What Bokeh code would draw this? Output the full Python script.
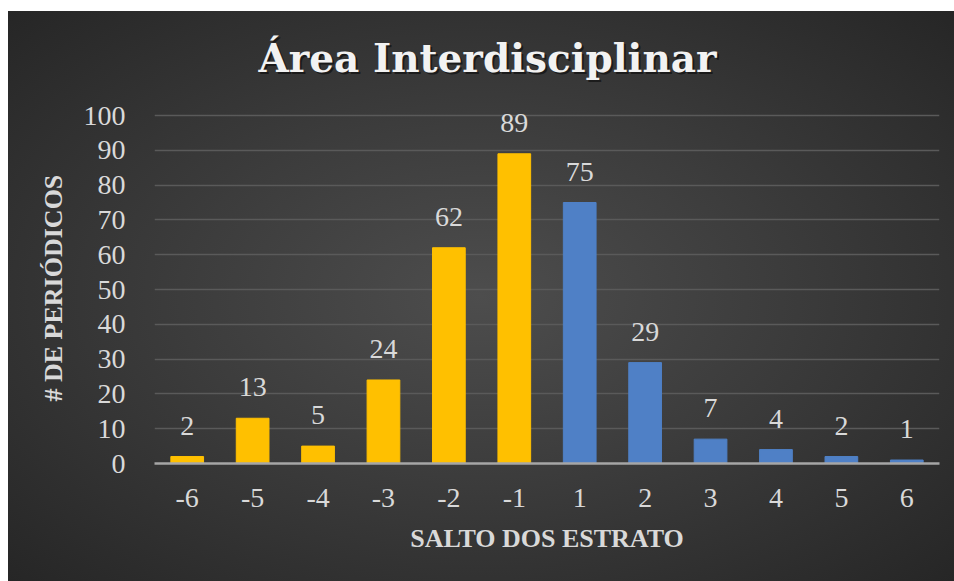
from bokeh.plotting import figure
from bokeh.models import ColumnDataSource, Range1d, FactorRange, LabelSet, Label, FixedTicker, Title
from bokeh.embed import file_html
from bokeh.resources import INLINE

# ---- data ----
categories = ["-6", "-5", "-4", "-3", "-2", "-1", "1", "2", "3", "4", "5", "6"]
values = [2, 13, 5, 24, 62, 89, 75, 29, 7, 4, 2, 1]
y_ticks = [0, 10, 20, 30, 40, 50, 60, 70, 80, 90, 100]
title_text = "Área Interdisciplinar"
x_label = "SALTO DOS ESTRATO"
y_label = "# DE PERIÓDICOS"

YELLOW = "#FFC000"
BLUE = "#4f80c6"
colors = [YELLOW if c.startswith("-") else BLUE for c in categories]

src = ColumnDataSource(dict(x=categories, top=values, color=colors,
                            lbl=[str(v) for v in values]))

W, H = 946, 570
FONT = "Liberation Serif"
# the frame is extended upward (to 125) so the title can live inside it
p = figure(width=W, height=H, x_range=FactorRange(*categories), y_range=Range1d(0, 125),
           output_backend="svg", toolbar_location=None,
           min_border_left=146, min_border_right=15, min_border_top=17, min_border_bottom=118)
p.styles = {"background": "radial-gradient(ellipse at 50% 50%, #4d4d4d 0%, #3c3c3c 45%, #262626 100%)",
            "margin-left": "8px", "margin-top": "11px"}
p.border_fill_alpha = 0
p.background_fill_alpha = 0
p.outline_line_color = None

p.vbar(x="x", top="top", width=0.5, color="color", source=src)

labels = LabelSet(x="x", y="top", text="lbl", source=src, text_align="center",
                  text_baseline="alphabetic", y_offset=22, text_color="#d9d9d9",
                  text_font=FONT, text_font_size="28px")
p.add_layout(labels)

# title with a soft shadow
for dx, dy, col, alpha in [(2, -2, "#000000", 0.5), (0, 0, "#f2f2f2", 1.0)]:
    p.add_layout(Label(x=333, x_units="screen", y=116.6, y_units="data",
                       x_offset=dx, y_offset=dy, text=title_text,
                       text_align="center", text_baseline="alphabetic",
                       text_font="DejaVu Serif", text_font_style="bold", text_font_size="39px",
                       text_color=col, text_alpha=alpha))

# y axis title placed alongside the 0-100 part of the axis
p.add_layout(Title(text=y_label, align="left", offset=62, standoff=26,
                   text_font=FONT, text_font_size="26px", text_font_style="bold",
                   text_color="#d9d9d9"), "left")

# axes
p.yaxis.ticker = FixedTicker(ticks=y_ticks)
p.yaxis.axis_line_color = None
p.yaxis.major_tick_line_color = None
p.yaxis.minor_tick_line_color = None
p.yaxis.major_label_text_font = FONT
p.yaxis.major_label_text_font_size = "28px"
p.yaxis.major_label_text_color = "#d9d9d9"
p.yaxis.major_label_standoff = 23

p.xaxis.axis_line_color = "#a6a6a6"
p.xaxis.axis_line_width = 2.5
p.xaxis.major_tick_line_color = None
p.xaxis.minor_tick_line_color = None
p.xaxis.major_label_text_font = FONT
p.xaxis.major_label_text_font_size = "28px"
p.xaxis.major_label_text_color = "#d9d9d9"
p.xaxis.major_label_standoff = 19
p.xaxis.axis_label = x_label
p.xaxis.axis_label_text_font = FONT
p.xaxis.axis_label_text_font_size = "26px"
p.xaxis.axis_label_text_font_style = "bold"
p.xaxis.axis_label_text_color = "#d9d9d9"
p.xaxis.axis_label_standoff = 14

p.xgrid.grid_line_color = None
p.ygrid.grid_line_color = "#5a5a5a"
p.ygrid.grid_line_width = 1.5

open("out.html", "w").write(file_html(p, INLINE))
